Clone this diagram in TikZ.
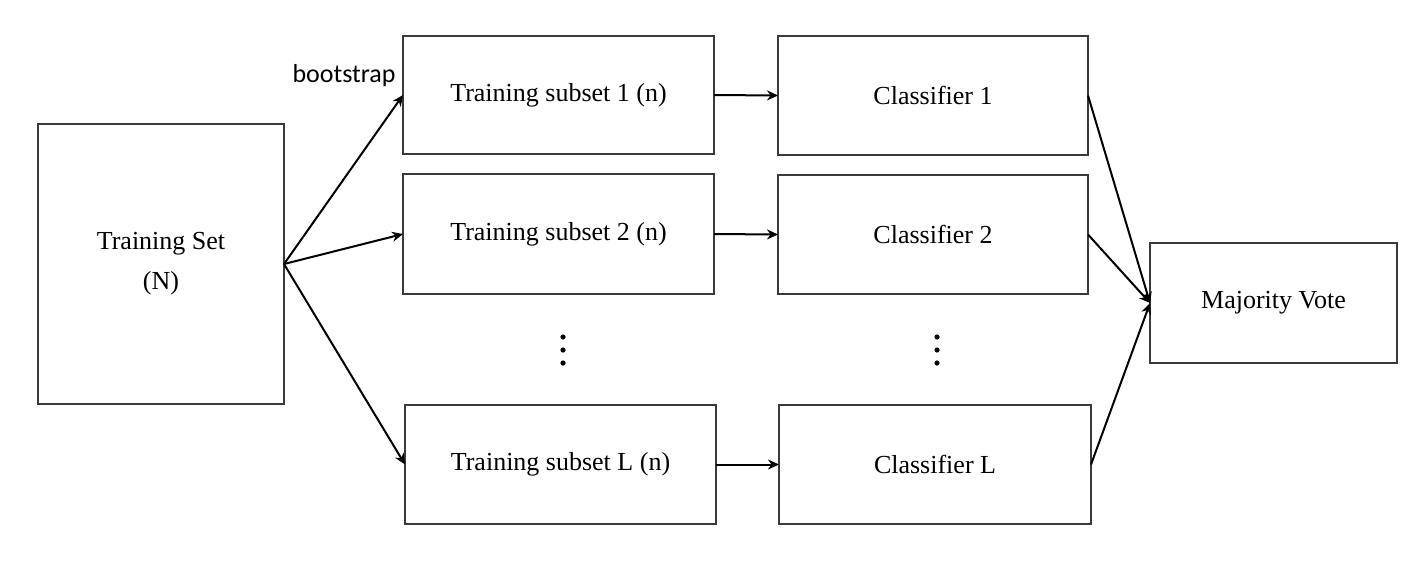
\documentclass[tikz,border=0pt]{standalone}
\usepackage{fontspec}
\setmainfont{Liberation Serif}
\newfontfamily\calib{Carlito}
\usetikzlibrary{arrows.meta}
\definecolor{boxgray}{HTML}{3A3A3A}
\tikzset{
  box/.style={draw=boxgray, line width=1pt, inner sep=0pt, outer sep=0pt, align=center,
    font=\fontsize{13}{20}\selectfont},
  conn/.style={line width=1pt, -{Stealth[length=5.5pt,width=5pt]}},
  dot/.style={circle, fill=black, inner sep=0pt, minimum size=2.6pt}
}
\begin{document}
\begin{tikzpicture}[x=0.5pt,y=-0.5pt]
\useasboundingbox (0,0) rectangle (1412,574);
\node[box, minimum width=123pt, minimum height=140pt] (ts) at (161,264) {Training Set\\(N)};
\node[box, minimum width=155.5pt, minimum height=59pt] (s1) at (558.5,95) {Training subset 1 (n)};
\node[box, minimum width=155.5pt, minimum height=60pt] (s2) at (558.5,234) {Training subset 2 (n)};
\node[box, minimum width=155.5pt, minimum height=59.5pt] (sl) at (560.5,464.5) {Training subset L (n)};
\node[box, minimum width=155pt, minimum height=59.5pt] (c1) at (933,95.5) {Classifier 1};
\node[box, minimum width=155pt, minimum height=59.5pt] (c2) at (933,234.5) {Classifier 2};
\node[box, minimum width=156pt, minimum height=59.5pt] (cl) at (935,464.5) {Classifier L};
\node[box, minimum width=123.5pt, minimum height=60pt] (mv) at (1273.5,303) {Majority Vote};
\node[anchor=base east, inner sep=0pt, font=\calib\fontsize{13}{15}\selectfont] (bs) at (396,82) {bootstrap};
\node[dot] (d1) at (563,337) {};
\node[dot] (d2) at (563,350) {};
\node[dot] (d3) at (563,363) {};
\node[dot] (e1) at (937,337) {};
\node[dot] (e2) at (937,350) {};
\node[dot] (e3) at (937,363) {};
\draw[conn] (ts.east) -- (s1.west);
\draw[conn] (ts.east) -- (s2.west);
\draw[conn] (ts.east) -- (sl.west);
\draw[conn] (s1.east) -- (c1.west);
\draw[conn] (s2.east) -- (c2.west);
\draw[conn] (sl.east) -- (cl.west);
\draw[conn] (c1.east) -- (mv.west);
\draw[conn] (c2.east) -- (mv.west);
\draw[conn] (cl.east) -- (mv.west);
\end{tikzpicture}
\end{document}
